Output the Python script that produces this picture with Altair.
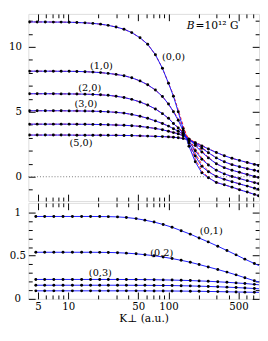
import altair as alt
import pandas as pd

FONT = "DejaVu Serif"

# ---------------- top panel data ----------------
K_top = [4.1, 4.9, 5.9, 7.1, 8.5, 10.2, 12.2, 14.7, 17.6, 21, 25, 30, 36, 43, 52, 62, 74, 87,
         100, 112, 125, 140, 160, 185, 215, 250, 300, 360, 430, 510, 610, 720, 790]

E00 = [11.92, 11.92, 11.92, 11.91, 11.91, 11.9, 11.88, 11.85, 11.81, 11.75, 11.66, 11.53, 11.36, 11.1,
       10.7, 10.2, 9.4, 8.35, 7.2, 6.2, 5.0, 3.7, 2.35, 1.15, 0.3, -0.08, -0.44, -0.62, -0.8, -1.0,
       -1.18, -1.36, -1.46]
E10 = [8.13, 8.13, 8.13, 8.13, 8.12, 8.12, 8.11, 8.09, 8.06, 8.02, 7.96, 7.88, 7.78, 7.62, 7.38, 7.08,
       6.68, 6.18, 5.6, 5.0, 4.35, 3.55, 2.6, 1.6, 0.8, 0.38, 0.02, -0.2, -0.38, -0.55, -0.72, -0.88, -0.96]
E20 = [6.39, 6.39, 6.39, 6.39, 6.38, 6.38, 6.37, 6.36, 6.34, 6.31, 6.27, 6.2, 6.1, 5.96, 5.76, 5.52,
       5.22, 4.86, 4.5, 4.1, 3.75, 3.35, 2.75, 2.0, 1.35, 0.9, 0.5, 0.22, 0.02, -0.14, -0.3, -0.45, -0.53]
E30 = [5.08, 5.08, 5.08, 5.08, 5.08, 5.07, 5.07, 5.06, 5.05, 5.03, 5.0, 4.96, 4.9, 4.8, 4.66, 4.5,
       4.3, 4.1, 3.9, 3.7, 3.5, 3.28, 2.9, 2.4, 1.9, 1.45, 1.0, 0.7, 0.5, 0.34, 0.17, 0.03, -0.05]
E40 = [4.05, 4.05, 4.05, 4.05, 4.05, 4.05, 4.04, 4.04, 4.03, 4.02, 4.0, 3.98, 3.96, 3.93, 3.88, 3.8,
       3.72, 3.62, 3.5, 3.4, 3.3, 3.15, 2.9, 2.55, 2.2, 1.85, 1.45, 1.15, 0.93, 0.77, 0.62, 0.5, 0.42]
E50 = [3.21, 3.21, 3.21, 3.21, 3.21, 3.21, 3.2, 3.2, 3.2, 3.2, 3.19, 3.19, 3.18, 3.17, 3.15, 3.13,
       3.11, 3.09, 3.07, 3.04, 3.0, 2.94, 2.82, 2.62, 2.38, 2.14, 1.87, 1.62, 1.42, 1.26, 1.1, 0.95, 0.86]

# red dashed (second approximation), differs near the crossing region
R00 = [11.92, 11.92, 11.92, 11.91, 11.91, 11.9, 11.88, 11.85, 11.81, 11.75, 11.66, 11.53, 11.36, 11.1,
       10.7, 10.2, 9.4, 8.35, 7.2, 6.3, 5.15, 3.95, 2.6, 1.35, 0.45, -0.05, -0.44, -0.62, -0.8, -1.0,
       -1.18, -1.36, -1.46]
R10 = [8.13, 8.13, 8.13, 8.13, 8.12, 8.12, 8.11, 8.09, 8.06, 8.02, 7.96, 7.88, 7.78, 7.62, 7.38, 7.08,
       6.68, 6.18, 5.6, 5.05, 4.45, 3.75, 2.85, 1.8, 0.95, 0.45, 0.02, -0.2, -0.38, -0.55, -0.72, -0.88, -0.96]
R20 = [6.39, 6.39, 6.39, 6.39, 6.38, 6.38, 6.37, 6.36, 6.34, 6.31, 6.27, 6.2, 6.1, 5.96, 5.76, 5.52,
       5.22, 4.86, 4.5, 4.12, 3.8, 3.45, 2.9, 2.15, 1.45, 0.95, 0.5, 0.22, 0.02, -0.14, -0.3, -0.45, -0.53]
R30 = [5.08, 5.08, 5.08, 5.08, 5.08, 5.07, 5.07, 5.06, 5.05, 5.03, 5.0, 4.96, 4.9, 4.8, 4.66, 4.5,
       4.3, 4.1, 3.9, 3.72, 3.54, 3.34, 3.0, 2.5, 1.98, 1.5, 1.0, 0.7, 0.5, 0.34, 0.17, 0.03, -0.05]
R40 = [4.05, 4.05, 4.05, 4.05, 4.05, 4.05, 4.04, 4.04, 4.03, 4.02, 4.0, 3.98, 3.96, 3.93, 3.88, 3.8,
       3.72, 3.62, 3.5, 3.41, 3.32, 3.2, 2.97, 2.62, 2.25, 1.88, 1.45, 1.15, 0.93, 0.77, 0.62, 0.5, 0.42]
R50 = [3.21, 3.21, 3.21, 3.21, 3.21, 3.21, 3.2, 3.2, 3.2, 3.2, 3.19, 3.19, 3.18, 3.17, 3.15, 3.13,
       3.11, 3.09, 3.07, 3.04, 3.01, 2.96, 2.86, 2.67, 2.42, 2.16, 1.87, 1.62, 1.42, 1.26, 1.1, 0.95, 0.86]

top_states = ["(0,0)", "(1,0)", "(2,0)", "(3,0)", "(4,0)", "(5,0)"]

top_label_text = ["(0,0)", "(1,0)", "(2,0)", "(3,0)", "(5,0)"]
top_label_K = [112, 21.4, 16.4, 15.0, 13.4]
top_label_E = [9.2, 8.55, 6.85, 5.6, 2.56]

field_label_K = [182]
field_label_E = [11.57]
zero_level = [0]

# ---------------- bottom panel data ----------------
K_bot = [4.75, 5.82, 7.18, 8.87, 11.0, 13.6, 16.7, 20.6, 25.1, 31, 38, 47.5, 58.2, 71.8, 88.5, 108.6,
         133.7, 165, 202, 249, 310, 383, 472, 578, 718, 800]
E01 = [0.955, 0.955, 0.955, 0.955, 0.955, 0.955, 0.955, 0.954, 0.953, 0.95, 0.943, 0.93, 0.912, 0.89,
       0.862, 0.83, 0.79, 0.75, 0.705, 0.66, 0.61, 0.56, 0.51, 0.46, 0.41, 0.385]
E02 = [0.54, 0.54, 0.54, 0.54, 0.54, 0.54, 0.54, 0.539, 0.538, 0.535, 0.53, 0.522, 0.512, 0.5, 0.485,
       0.467, 0.447, 0.424, 0.398, 0.37, 0.34, 0.31, 0.278, 0.245, 0.21, 0.195]
E03 = [0.225, 0.225, 0.225, 0.225, 0.225, 0.225, 0.225, 0.225, 0.225, 0.225, 0.224, 0.224, 0.223, 0.222,
       0.22, 0.218, 0.215, 0.212, 0.208, 0.204, 0.198, 0.192, 0.185, 0.178, 0.168, 0.163]
E04 = [0.158, 0.158, 0.158, 0.158, 0.158, 0.158, 0.158, 0.158, 0.158, 0.158, 0.158, 0.157, 0.157, 0.156,
       0.155, 0.154, 0.152, 0.15, 0.147, 0.144, 0.14, 0.136, 0.131, 0.126, 0.12, 0.117]
E05 = [0.093, 0.093, 0.093, 0.093, 0.093, 0.093, 0.093, 0.093, 0.093, 0.093, 0.093, 0.093, 0.093, 0.092,
       0.092, 0.091, 0.09, 0.089, 0.088, 0.086, 0.084, 0.082, 0.08, 0.078, 0.076, 0.075]
bot_states = ["(0,1)", "(0,2)", "(0,3)", "(0,4)", "(0,5)"]
bot_dot_max_K = 720  # the edge sample at K=800 only closes the line

bot_label_text = ["(0,1)", "(0,2)", "(0,3)"]
bot_label_K = [267, 85.5, 20.9]
bot_label_E = [0.787, 0.532, 0.298]

# ---------------- ticks ----------------
x_major = [5, 10, 50, 100, 500]
x_minor = [6, 7, 8, 9, 20, 30, 40, 60, 70, 80, 90, 200, 300, 400, 600, 700]
y_top_major = [0, 5, 10]
y_top_minor = [-1, 1, 2, 3, 4, 6, 7, 8, 9, 11, 12]
y_bot_major = [0, 0.5, 1]
y_bot_minor = [0.1, 0.2, 0.3, 0.4, 0.6, 0.7, 0.8, 0.9]


def long_frame(K, states, series):
    rows = []
    for name, vals in zip(states, series):
        for k, e in zip(K, vals):
            rows.append({"K": k, "E": e, "state": name})
    return pd.DataFrame(rows)


blue_top = long_frame(K_top, top_states, [E00, E10, E20, E30, E40, E50])
red_top = long_frame(K_top, top_states, [R00, R10, R20, R30, R40, R50])
blue_bot = long_frame(K_bot, bot_states, [E01, E02, E03, E04, E05])

xs = alt.Scale(type="log", domain=[4, 800], nice=False)
ys_top = alt.Scale(domain=[-1.866, 12.54], nice=False, zero=False)
ys_bot = alt.Scale(domain=[0, 1.112], nice=False, zero=False)

W = 238
H_TOP = 193
H_BOT = 99


def ax(orient, values, size, **kw):
    return alt.Axis(orient=orient, values=values, tickSize=size, offset=-size, domain=False,
                    grid=False, tickColor="black", tickWidth=1, labels=kw.pop("labels", False),
                    minExtent=0, maxExtent=60, **kw)


def kw_pad(ymaj):
    if 0.5 in ymaj:
        return {"condition": {"test": "datum.value == 0.5", "value": 3}, "value": 8}
    return 7


def axis_layers(data, ys, ymaj, ymin, bottom_major_axis):
    base = alt.Chart(data).mark_point(opacity=0, size=1)
    specs = [
        (bottom_major_axis, ax("left", ymaj, 7, labels=True, labelFont=FONT, labelFontSize=10.5,
                               labelPadding=kw_pad(ymaj), labelColor="black", format="~r")),
        (ax("bottom", x_minor, 4), ax("left", ymin, 4)),
        (ax("top", x_major, 7), ax("right", ymaj, 7)),
        (ax("top", x_minor, 4), ax("right", ymin, 4)),
    ]
    layers = []
    for xa, ya in specs:
        layers.append(base.encode(
            x=alt.X("K:Q", scale=xs, axis=xa, title=None),
            y=alt.Y("E:Q", scale=ys, axis=ya, title=None),
        ))
    return layers


def marks(blue, ys, red=None, dot_max=None):
    out = []
    if red is not None:
        out.append(alt.Chart(red).mark_line(color="#ff2020", strokeWidth=1, strokeDash=[3, 2], clip=True)
                   .encode(x=alt.X("K:Q", scale=xs, axis=None), y=alt.Y("E:Q", scale=ys, axis=None),
                           detail="state:N"))
    out.append(alt.Chart(blue).mark_line(color="#1a1aff", strokeWidth=1, clip=True)
               .encode(x=alt.X("K:Q", scale=xs, axis=None), y=alt.Y("E:Q", scale=ys, axis=None),
                       detail="state:N"))
    dots = alt.Chart(blue)
    if dot_max is not None:
        dots = dots.transform_filter(alt.datum.K <= dot_max)
    out.append(dots.mark_circle(color="black", size=9, opacity=1, clip=True)
               .encode(x=alt.X("K:Q", scale=xs, axis=None), y=alt.Y("E:Q", scale=ys, axis=None)))
    return out


def labels(texts, Ks, Es, ys):
    df = pd.DataFrame({"K": Ks, "E": Es, "t": texts})
    return alt.Chart(df).mark_text(font=FONT, fontSize=10, color="black").encode(
        x=alt.X("K:Q", scale=xs, axis=None), y=alt.Y("E:Q", scale=ys, axis=None), text="t:N")


zero_rule = alt.Chart(pd.DataFrame({"E": zero_level})).mark_rule(
    color="#555555", strokeDash=[1, 2], strokeWidth=0.8).encode(
    y=alt.Y("E:Q", scale=ys_top, axis=None))

field_df = pd.DataFrame({"K": field_label_K, "E": field_label_E})
field_B = alt.Chart(field_df).mark_text(font=FONT, fontSize=11, fontStyle="italic", align="right",
                                        color="black").encode(
    x=alt.X("K:Q", scale=xs, axis=None), y=alt.Y("E:Q", scale=ys_top, axis=None), text=alt.value("B"))
field_rest = alt.Chart(field_df).mark_text(font=FONT, fontSize=11, align="left", dx=1,
                                           color="black").encode(
    x=alt.X("K:Q", scale=xs, axis=None), y=alt.Y("E:Q", scale=ys_top, axis=None),
    text=alt.value("=10\u00b9\u00b2 G"))

top_bottom_axis = ax("bottom", x_major, 7)
top = alt.layer(
    *axis_layers(blue_top, ys_top, y_top_major, y_top_minor, top_bottom_axis),
    zero_rule,
    *marks(blue_top, ys_top, red_top),
    labels(top_label_text, top_label_K, top_label_E, ys_top),
    field_B, field_rest,
).resolve_axis(x="independent", y="independent").properties(width=W, height=H_TOP)

bot_bottom_axis = ax("bottom", x_major, 7, labels=True, labelFont=FONT, labelFontSize=10.5,
                     labelPadding=3, labelColor="black", format="d",
                     title="K\u22a5 (a.u.)", titleFont=FONT, titleFontSize=11,
                     titleFontWeight="normal", titlePadding=1, titleColor="black")
bottom = alt.layer(
    *axis_layers(blue_bot, ys_bot, y_bot_major, y_bot_minor, bot_bottom_axis),
    *marks(blue_bot, ys_bot, dot_max=bot_dot_max_K),
    labels(bot_label_text, bot_label_K, bot_label_E, ys_bot),
).resolve_axis(x="independent", y="independent").properties(width=W, height=H_BOT)

chart = alt.vconcat(top, bottom, spacing=0).properties(padding=0).configure_view(
    stroke="black", strokeWidth=1).configure(font=FONT)

chart.save("out.html", embed_options={"renderer": "svg", "actions": False})
